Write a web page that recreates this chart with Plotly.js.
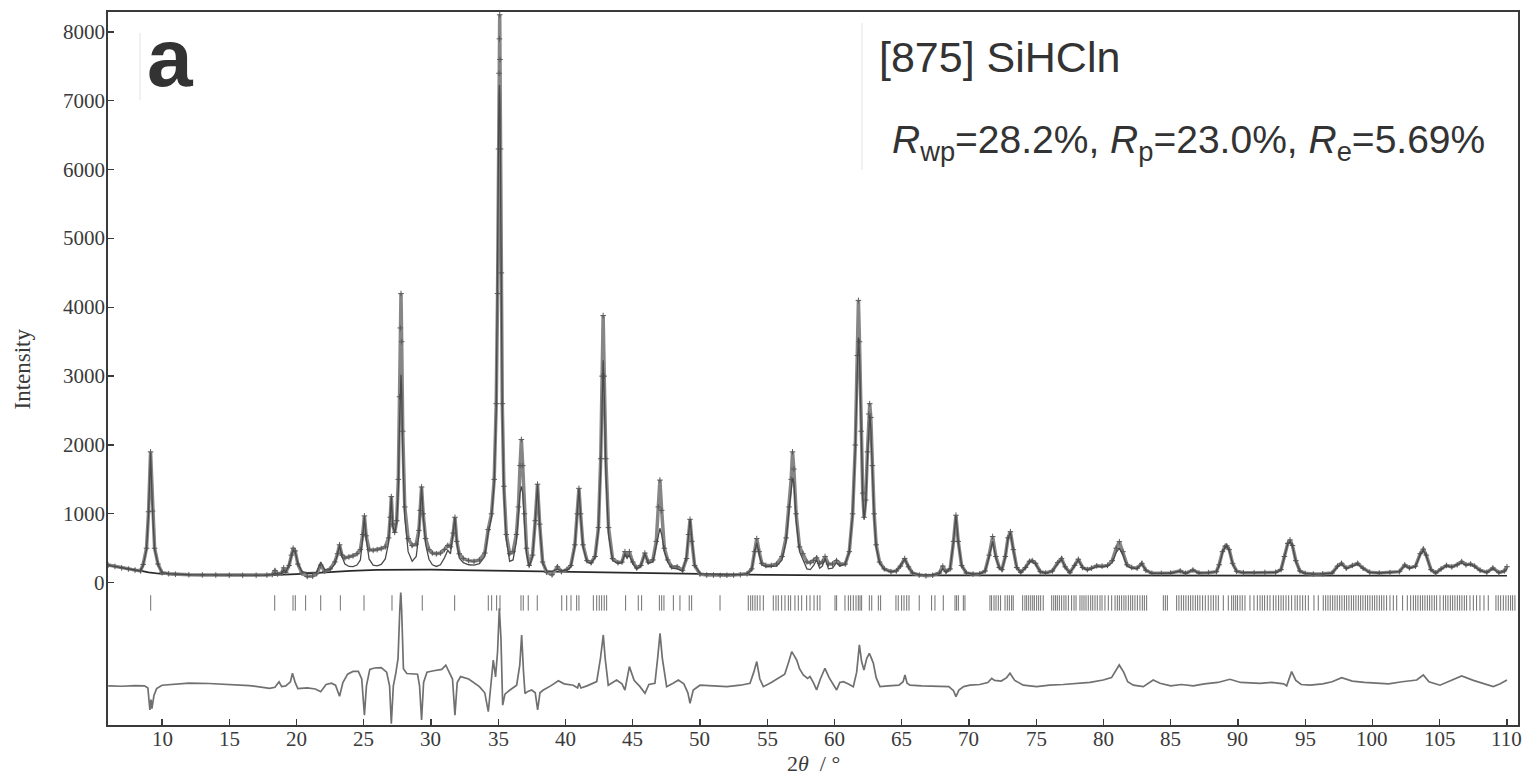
<!DOCTYPE html>
<html>
<head>
<meta charset="utf-8">
<script src="https://cdn.plot.ly/plotly-3.0.1.min.js"></script>
<style>
  html, body { margin: 0; padding: 0; background: #fff; }
  #chart { width: 1528px; height: 780px; }
</style>
</head>
<body>
<div id="chart"></div>
<script>
// Rietveld refinement plot for [875] SiHCln: observed, calculated,
// background, difference and reflection positions versus 2θ.

// ---- observed / calculated profile (shared 2θ grid) ----
const angle = [
  6.0, 6.5, 7.0, 7.5, 8.0, 8.4, 8.6, 8.85, 9.0, 9.15, 9.3, 9.45, 9.7, 10.0,
  10.5, 11, 12, 13, 14, 15, 16, 17, 17.8, 18.2, 18.4, 18.6, 18.9,
  19.05, 19.2, 19.45, 19.62, 19.75, 19.9, 20.1, 20.4, 20.8, 21.2, 21.5, 21.8, 22.1,
  22.5, 22.85, 23.05, 23.2, 23.38, 23.6, 23.9, 24.2, 24.5, 24.75, 24.92, 25.05, 25.18, 25.4, 25.7, 26.0, 26.3, 26.6,
  26.85, 26.97, 27.05, 27.15, 27.3, 27.45, 27.57, 27.66, 27.72, 27.77, 27.82, 27.9, 28.05, 28.3, 28.6, 28.9,
  29.1, 29.2, 29.3, 29.42, 29.6, 29.85, 30.1, 30.4, 30.7, 31.0, 31.25, 31.45, 31.65, 31.78, 31.92, 32.1, 32.4, 32.8, 33.2, 33.6,
  34.0, 34.25, 34.5, 34.7, 34.85, 34.95, 35.02, 35.06, 35.09, 35.11, 35.13, 35.17, 35.23, 35.3, 35.42, 35.6, 35.85, 36.1, 36.35,
  36.5, 36.62, 36.72, 36.82, 36.95, 37.1, 37.3, 37.55, 37.75, 37.92, 38.08, 38.3, 38.6, 39.0, 39.4,
  39.7, 40.1, 40.4, 40.7, 40.88, 41.0, 41.12, 41.3, 41.6, 41.9, 42.2, 42.45, 42.62, 42.72, 42.8, 42.88, 43.0, 43.2, 43.5,
  43.9, 44.2, 44.42, 44.58, 44.75, 45.0, 45.3, 45.6, 45.9, 46.15, 46.5, 46.75, 46.9, 47.02, 47.15, 47.35, 47.6, 47.9, 48.3, 48.7,
  49.0, 49.15, 49.26, 49.4, 49.6, 50.0, 50.5, 51.0, 51.5, 52.0, 52.5, 53.0, 53.5,
  53.85, 54.05, 54.22, 54.4, 54.6, 54.9, 55.3, 55.7, 56.1, 56.4, 56.62, 56.78, 56.88, 56.98, 57.15, 57.4, 57.65, 57.95, 58.2,
  58.45, 58.67, 58.9, 59.1, 59.3, 59.55, 59.85, 60.15, 60.4, 60.8, 61.1,
  61.35, 61.55, 61.7, 61.78, 61.86, 61.98, 62.1, 62.2, 62.32, 62.45, 62.55, 62.62, 62.7, 62.82, 62.95, 63.1, 63.35, 63.7,
  64.2, 64.6, 64.9, 65.22, 65.5, 65.8, 66.3, 66.8, 67.3, 67.8, 68.05, 68.3, 68.6, 68.85, 69.03, 69.2, 69.45, 69.8, 70.3,
  70.8, 71.2, 71.5, 71.76, 72.0, 72.25, 72.45, 72.7, 72.9, 73.08, 73.3, 73.55, 73.85, 74.2, 74.5, 74.7, 74.95, 75.3, 75.7,
  76.2, 76.6, 76.88, 77.15, 77.5, 77.85, 78.13, 78.45, 78.8, 79.1, 79.5, 79.9, 80.3, 80.65, 80.95, 81.18, 81.45, 81.75, 82.1, 82.5, 82.85, 83.15, 83.6,
  84.3, 85.0, 85.7, 86.1, 86.65, 87.1, 87.8, 88.4, 88.6, 88.85, 89.05, 89.16, 89.35, 89.6, 89.9, 90.4, 91.2, 92.0, 92.8,
  93.2, 93.45, 93.7, 93.87, 94.05, 94.3, 94.6, 95.0, 95.6, 96.3, 97.0, 97.4, 97.7, 98.05, 98.5, 98.9, 99.3, 99.8,
  100.5, 101.3, 102.0, 102.4, 102.75, 103.2, 103.55, 103.78, 104.0, 104.35, 104.7, 105.1, 105.5, 105.9, 106.3, 106.63, 106.95, 107.3, 107.6, 108.0, 108.5, 108.95, 109.4, 109.8, 110.0
];

const observed = [
  255, 235, 215, 198, 182, 172, 265, 500, 1030, 1900, 1040, 500, 270, 145,
  130, 122, 115, 112, 110, 107, 106, 107, 110, 118, 175, 125, 140,
  215, 150, 250, 400, 500, 460, 270, 140, 90, 95, 130, 255, 165,
  200, 300, 420, 550, 400, 360, 375, 390, 420, 480, 700, 970, 680, 480, 470, 480, 495, 520,
  650, 950, 1250, 850, 730, 900, 1500, 2700, 3700, 4200, 3500, 2200, 1100, 640, 540, 560,
  760, 1050, 1390, 1000, 640, 480, 430, 420, 430, 480, 540, 520, 720, 950, 600, 420, 350, 320, 310, 330,
  430, 770, 1000, 1500, 2600, 4200, 6300, 7400, 7900, 8250, 7600, 6300, 4500, 2600, 1400, 700, 420, 450, 700,
  1100, 1700, 2080, 1700, 1000, 500, 250, 400, 900, 1430, 850, 300, 150, 115, 230,
  160, 190, 250, 550, 1000, 1370, 1000, 550, 320, 290, 380, 800, 1800, 3000, 3880, 3000, 1800, 800, 350,
  290, 300, 450, 380, 450, 300, 213, 250, 430, 300, 330, 600, 1100, 1490, 1050, 500, 330, 230, 230, 180,
  350, 700, 920, 600, 250, 125, 110, 110, 105, 108, 110, 115, 130,
  200, 450, 640, 450, 280, 250, 250, 270, 380, 650, 1100, 1500, 1900, 1650, 1000, 520, 420, 300, 290,
  320, 360, 280, 300, 380, 270, 270, 320, 270, 270, 450,
  1000, 2000, 3300, 4100, 3500, 2200, 1300, 950, 1200, 1900, 2450, 2600, 2400, 1700, 1000, 550, 300, 200,
  160, 170, 240, 350, 230, 140, 110, 100, 108, 140, 240, 160, 200, 600, 980, 600, 250, 140, 125,
  130, 170, 400, 670, 380, 220, 190, 380, 650, 740, 480, 220, 150, 220, 310, 320, 280, 160, 140,
  170, 290, 350, 230, 145, 250, 340, 220, 190, 210, 245, 240, 250, 320, 500, 595, 450, 260, 220, 210, 280, 180, 137,
  135, 140, 170, 135, 183, 140, 145, 160, 260, 450, 530, 535, 480, 280, 165, 145, 145, 148, 150,
  190, 380, 570, 620, 540, 320, 170, 135, 125, 128, 140, 240, 280, 210, 250, 280, 210, 150,
  140, 145, 160, 257, 215, 240, 420, 485, 400, 190, 140, 200, 250, 230, 260, 305, 260, 270, 240, 180, 150, 213, 145, 170, 232
];

const calculated = [
  250, 232, 212, 195, 180, 170, 255, 485, 1010, 1880, 1020, 490, 265, 145,
  130, 122, 115, 112, 110, 107, 106, 107, 110, 115, 140, 120, 135,
  185, 150, 260, 390, 470, 450, 280, 160, 145, 148, 150, 300, 185,
  185, 270, 410, 540, 380, 270, 235, 232, 255, 330, 640, 960, 640, 340, 255, 245, 265, 345,
  580, 930, 1240, 830, 720, 880, 1350, 2300, 2900, 3020, 2800, 1900, 950, 450, 310, 380,
  700, 1030, 1380, 980, 560, 340, 260, 235, 260, 360, 470, 420, 700, 940, 580, 360, 290, 260, 255, 275,
  380, 720, 950, 1450, 2500, 4200, 6300, 7100, 7230, 7100, 6900, 6000, 4300, 2500, 1300, 620, 310, 330, 600,
  1000, 1300, 1400, 1300, 850, 430, 230, 380, 880, 1420, 830, 290, 170, 165, 200,
  170, 180, 230, 540, 990, 1360, 980, 520, 300, 280, 370, 760, 1700, 2700, 3230, 2700, 1600, 700, 320,
  280, 290, 420, 360, 400, 280, 200, 240, 420, 280, 300, 520, 700, 790, 700, 450, 300, 210, 200, 170,
  380, 720, 925, 620, 260, 130, 125, 122, 120, 118, 118, 118, 130,
  190, 420, 580, 410, 260, 230, 230, 240, 330, 600, 1050, 1400, 1520, 1450, 900, 450, 330, 200, 190,
  250, 330, 210, 240, 350, 200, 210, 290, 240, 270, 450,
  1000, 1950, 3100, 3560, 3300, 2100, 1250, 920, 1150, 1800, 2300, 2430, 2250, 1600, 950, 520, 290, 190,
  160, 170, 240, 345, 230, 140, 115, 112, 112, 130, 200, 150, 210, 600, 970, 600, 250, 140, 125,
  130, 165, 380, 600, 360, 210, 185, 370, 640, 730, 470, 220, 150, 215, 300, 310, 270, 160, 140,
  165, 280, 340, 225, 145, 245, 330, 215, 185, 205, 235, 230, 240, 290, 440, 500, 400, 240, 210, 205, 275, 180, 137,
  135, 140, 168, 135, 180, 140, 145, 158, 250, 440, 520, 530, 470, 275, 162, 145, 145, 148, 150,
  185, 370, 560, 600, 530, 310, 165, 135, 125, 128, 140, 230, 270, 205, 245, 270, 205, 150,
  140, 145, 160, 250, 210, 235, 410, 470, 390, 185, 140, 195, 245, 225, 255, 290, 255, 265, 235, 175, 150, 205, 145, 165, 200
];

// ---- refined background ----
const bkgAngle = [6, 7, 8, 9, 10, 11, 12, 14, 16, 18, 20, 22, 24, 26, 28, 30, 32, 34, 36, 38,
                  40, 43, 46, 50, 55, 60, 65, 70, 80, 90, 100, 110];
const bkgValue = [257, 225, 190, 150, 126, 117, 112, 108, 104, 108, 125, 150, 172, 185, 190, 188, 183, 176, 170, 164,
                  158, 148, 138, 125, 112, 106, 106, 106, 104, 104, 102, 100];

// ---- difference curve (obs - calc, drawn with its offset) ----
const diffAngle = [
  6.0, 7.0, 8.0, 8.7, 8.95, 9.1, 9.18, 9.25, 9.4, 9.6,
  10.0, 11, 12, 13.5, 15, 16.5, 18.0, 18.4, 18.7, 18.9,
  19.2, 19.55, 19.7, 19.9, 20.1, 20.8, 21.4, 21.8, 22.2, 22.6,
  22.9, 23.2, 23.45, 23.8, 24.2, 24.6, 24.85, 25.05, 25.2, 25.45,
  25.8, 26.3, 26.7, 26.92, 27.05, 27.2, 27.38, 27.55, 27.68, 27.75,
  27.82, 27.95, 28.2, 28.6, 29.0, 29.15, 29.3, 29.45, 29.7, 30.2,
  30.8, 31.1, 31.35, 31.6, 31.78, 31.95, 32.2, 32.8, 33.6, 34.0,
  34.26, 34.45, 34.63, 34.8, 34.95, 35.08, 35.2, 35.33, 35.5, 35.87,
  36.37, 36.6, 36.74, 36.88, 36.99, 37.2, 37.49, 37.75, 37.93, 38.1,
  38.35, 38.9, 39.47, 39.9, 40.58, 40.9, 41.0, 41.15, 41.6, 42.32,
  42.6, 42.81, 42.95, 43.18, 43.8, 44.2, 44.42, 44.75, 45.1, 45.54,
  45.91, 46.2, 46.65, 46.85, 47.03, 47.2, 47.52, 48.0, 48.39, 48.8,
  49.1, 49.26, 49.5, 50.0, 51.0, 52.0, 53.0, 53.72, 54.0, 54.22,
  54.45, 54.71, 55.3, 55.95, 56.3, 56.6, 56.82, 57.0, 57.19, 57.4,
  57.68, 58.0, 58.18, 58.45, 58.67, 58.95, 59.29, 59.6, 59.9, 60.16,
  60.4, 60.66, 61.0, 61.4, 61.65, 61.85, 62.02, 62.19, 62.4, 62.59,
  62.75, 62.89, 63.1, 63.38, 64.0, 64.8, 65.1, 65.24, 65.4, 65.61,
  66.5, 67.84, 68.5, 68.85, 69.03, 69.25, 69.6, 70.07, 70.8, 71.4,
  71.69, 71.9, 72.4, 72.8, 73.05, 73.4, 74.04, 75.03, 76.0, 77.0,
  78.0, 79.0, 79.98, 80.6, 81.17, 81.5, 81.8, 82.22, 82.96, 83.7,
  84.2, 85.0, 85.8, 86.68, 87.5, 88.5, 89.4, 90.2, 91.64, 92.5,
  93.4, 93.62, 93.99, 94.3, 94.7, 95.35, 96.3, 97.0, 97.71, 98.5,
  99.4, 100.3, 101.2, 102.2, 103.29, 103.78, 104.2, 105.02, 105.8, 106.63,
  107.5, 108.3, 108.98, 109.5, 110.0
];
const diffValue = [
  -1500, -1505, -1495, -1500, -1530, -1850, -1700, -1830, -1640, -1540,
  -1490, -1470, -1460, -1465, -1475, -1495, -1535, -1520, -1440, -1510,
  -1500, -1440, -1317, -1450, -1540, -1530, -1545, -1585, -1480, -1460,
  -1490, -1650, -1450, -1330, -1290, -1290, -1400, -1925, -1500, -1260,
  -1240, -1235, -1300, -1500, -2050, -1500, -1320, -1100, -400, -145,
  -400, -1250, -1320, -1330, -1330, -1500, -1995, -1450, -1300, -1280,
  -1260, -1200, -1290, -1400, -1925, -1450, -1365, -1400, -1510, -1600,
  -1875, -1500, -1125, -1370, -1000, -372, -800, -1780, -1620, -1560,
  -1490, -1200, -760, -1300, -1610, -1580, -1560, -1600, -1850, -1600,
  -1560, -1500, -1425, -1470, -1490, -1530, -1460, -1530, -1500, -1438,
  -1100, -760, -1100, -1490, -1414, -1470, -1560, -1220, -1420, -1511,
  -1608, -1480, -1462, -1100, -736, -1100, -1511, -1460, -1414, -1470,
  -1600, -1753, -1560, -1490, -1500, -1511, -1490, -1462, -1300, -1147,
  -1400, -1511, -1450, -1365, -1330, -1150, -1002, -1060, -1123, -1250,
  -1341, -1390, -1365, -1460, -1559, -1400, -1244, -1380, -1480, -1559,
  -1450, -1438, -1470, -1511, -1300, -905, -1150, -1268, -1100, -1026,
  -1100, -1171, -1380, -1511, -1500, -1490, -1440, -1341, -1460, -1490,
  -1500, -1500, -1510, -1570, -1656, -1560, -1510, -1490, -1480, -1450,
  -1390, -1420, -1430, -1380, -1317, -1420, -1490, -1511, -1490, -1480,
  -1462, -1450, -1414, -1380, -1196, -1300, -1440, -1490, -1511, -1414,
  -1462, -1500, -1480, -1500, -1470, -1450, -1404, -1450, -1462, -1450,
  -1470, -1500, -1293, -1420, -1480, -1490, -1470, -1440, -1380, -1430,
  -1450, -1462, -1470, -1440, -1414, -1341, -1440, -1490, -1430, -1356,
  -1420, -1470, -1511, -1470, -1414
];

// ---- Bragg reflection positions (2θ) ----
const reflections = [
  9.16, 18.38, 19.74, 19.91, 20.68, 21.8, 23.26, 25.02, 27.1, 27.79, 29.35, 31.76,
  34.26, 34.51, 34.88, 35.13, 36.69, 36.86, 37.23, 37.9, 39.72, 40.09, 40.41, 40.83, 41.0,
  42.07, 42.32, 42.51, 42.69, 42.88, 43.06, 44.47, 45.41, 45.66, 46.98, 47.15, 47.32,
  48.02, 48.51, 49.2, 49.38, 51.49,
  53.59, 53.77, 53.92, 54.09, 54.26, 54.46, 54.71, 55.45, 55.65, 55.82, 56.07, 56.32,
  56.57, 56.74, 57.06, 57.31, 57.56, 57.93, 58.18, 58.48, 58.72, 58.92,
  60.04, 60.16, 60.78, 61.03, 61.2, 61.4, 61.6, 61.77, 61.9, 62.02, 62.59, 62.77,
  63.26, 63.43, 64.57, 64.74, 64.99, 65.17, 65.37, 65.54, 66.3, 67.22, 67.47, 68.09,
  68.96, 69.08, 69.21, 69.58, 69.7,
  71.56, 71.68, 71.86, 72.01, 72.18, 72.35, 72.68, 72.85, 73.0, 73.17, 73.29,
  73.99, 74.16, 74.29, 74.44, 74.59, 74.74, 74.86, 75.03, 75.18, 75.33, 75.52,
  76.15, 76.3, 76.44, 76.57, 76.72, 76.89, 77.06, 77.21, 77.39, 77.63, 77.81, 77.96,
  78.25, 78.4, 78.55, 78.7, 78.87, 79.05, 79.2, 79.37, 79.54, 79.74, 79.89, 80.11,
  80.36, 80.61, 80.86, 81.03, 81.18, 81.35, 81.52, 81.67, 81.85, 82.02, 82.17, 82.34,
  82.52, 82.71, 82.89, 83.04, 83.21, 84.45, 84.6, 84.75,
  85.44, 85.61, 85.79, 85.96, 86.13, 86.31, 86.48, 86.65, 86.83, 87.0, 87.17, 87.37,
  87.57, 87.79, 87.99, 88.17, 88.36, 88.54, 88.91, 89.28, 89.53, 89.68, 89.83, 89.97,
  90.15, 90.32, 90.52, 90.89, 91.19, 91.44, 91.64, 91.81, 91.98, 92.18, 92.38, 92.63,
  92.82, 93.02, 93.2, 93.37, 93.57, 93.77, 93.99, 94.24, 94.41, 94.61, 94.81, 95.01,
  95.23, 95.65, 95.97, 96.34, 96.52, 96.69, 96.86, 97.04, 97.21, 97.38, 97.56, 97.73,
  97.91, 98.08, 98.25, 98.43, 98.6, 98.77, 98.95, 99.12, 99.29, 99.47, 99.64, 99.81,
  99.99, 100.16, 100.33, 100.51, 100.68, 100.85, 101.05, 101.3, 101.55, 101.8, 102.24,
  102.59, 102.84, 103.04, 103.21, 103.38, 103.56, 103.73, 103.9, 104.08, 104.25, 104.42,
  104.6, 104.77, 105.02, 105.27, 105.44, 105.61, 105.79, 105.96, 106.13, 106.31, 106.48,
  106.65, 106.83, 107.0, 107.25, 107.5, 107.74, 107.99, 108.29, 108.61, 109.18, 109.35,
  109.53, 109.73, 109.92, 110.1, 110.27, 110.42, 110.59
];

// ---- axis ticks ----
const angleTicks = [10, 15, 20, 25, 30, 35, 40, 45, 50, 55, 60, 65, 70, 75, 80, 85, 90, 95, 100, 105, 110];
const intensityTicks = [0, 1000, 2000, 3000, 4000, 5000, 6000, 7000, 8000];

// vertical level of the reflection marker row
const reflectionRow = -295;

const serif = "Liberation Serif, Times New Roman, serif";
const sans = "Liberation Sans, Arial, sans-serif";
const narrowSans = "Liberation Sans Narrow, Liberation Sans, Arial, sans-serif";
const axisInk = "#3a3a3a";

const traces = [
  {
    x: reflections, y: reflections.map(() => reflectionRow),
    type: "scatter", mode: "markers", hoverinfo: "x",
    marker: { symbol: "line-ns-open", size: 11, color: "#707070", line: { width: 1, color: "#707070" } }
  },
  {
    x: bkgAngle, y: bkgValue, type: "scatter", mode: "lines",
    line: { color: "#2a2a2a", width: 1.7 }
  },
  {
    x: angle, y: observed, type: "scatter", mode: "lines+markers",
    line: { color: "#868686", width: 3.5 },
    marker: { symbol: "cross-thin-open", size: 4, color: "#5a5a5a", line: { width: 1, color: "#5a5a5a" } }
  },
  {
    x: angle, y: calculated, type: "scatter", mode: "lines",
    line: { color: "#4a4a4a", width: 1.3 }
  },
  {
    x: diffAngle, y: diffValue, type: "scatter", mode: "lines",
    line: { color: "#707070", width: 1.7 }
  }
];

// Tick labels are placed as annotations so they sit tight against the frame.
const tickFont = { family: serif, size: 21, color: axisInk };
const xTickLabels = angleTicks.map(v => ({
  xref: "x", yref: "paper", x: v, y: 0, xanchor: "center", yanchor: "middle",
  yshift: -14, text: String(v), showarrow: false, font: tickFont
}));
const yTickLabels = intensityTicks.map(v => ({
  xref: "paper", yref: "y", x: 0, y: v, xanchor: "right", yanchor: "middle",
  xshift: -1, text: String(v), showarrow: false, font: tickFont
}));

const layout = {
  width: 1528, height: 780,
  margin: { l: 108, r: 10, t: 12, b: 55 },
  paper_bgcolor: "#fff", plot_bgcolor: "#fff",
  showlegend: false,
  xaxis: {
    range: [5.985, 110.82], tickvals: angleTicks, showticklabels: false,
    ticks: "inside", ticklen: 6, tickwidth: 1.3, tickcolor: axisInk,
    showline: true, mirror: true, linecolor: axisInk, linewidth: 1.6,
    showgrid: false, zeroline: false
  },
  yaxis: {
    range: [-2068, 8290], tickvals: intensityTicks, showticklabels: false,
    ticks: "inside", ticklen: 6, tickwidth: 1.3, tickcolor: axisInk,
    showline: true, mirror: true, linecolor: axisInk, linewidth: 1.6,
    showgrid: false, zeroline: false
  },
  annotations: [
    ...xTickLabels,
    ...yTickLabels,
    {
      xref: "paper", yref: "paper", x: 0.5, y: 0, xanchor: "center", yanchor: "middle",
      yshift: -38, text: "2<i>θ</i>&nbsp;&nbsp;/&nbsp;°", showarrow: false,
      font: { family: serif, size: 22, color: axisInk }
    },
    {
      xref: "paper", yref: "paper", x: -0.0603, y: 0.5, xanchor: "center", yanchor: "middle",
      textangle: -90, text: "Intensity", showarrow: false,
      font: { family: serif, size: 23, color: axisInk }
    },
    {
      xref: "paper", yref: "paper", x: 0.044, y: 0.9366, xanchor: "center", yanchor: "middle",
      text: "<b>a</b>", showarrow: false,
      font: { family: narrowSans, size: 82, color: "#333" }
    },
    {
      xref: "paper", yref: "paper", x: 0.6326, y: 0.9367, xanchor: "center", yanchor: "middle",
      text: "[875] SiHCln", showarrow: false,
      font: { family: sans, size: 43, color: "#333" }
    },
    {
      xref: "paper", yref: "paper", x: 0.766, y: 0.817, xanchor: "center", yanchor: "middle",
      text: "<i>R</i><sub>wp</sub>=28.2%, <i>R</i><sub>p</sub>=23.0%, <i>R</i><sub>e</sub>=5.69%",
      showarrow: false,
      font: { family: sans, size: 39, color: "#333" }
    }
  ],
  shapes: [
    { type: "line", xref: "paper", yref: "paper", x0: 0.0227, x1: 0.0227, y0: 0.8766, y1: 0.9705,
      line: { color: "#e2e2e2", width: 1 } },
    { type: "line", xref: "paper", yref: "paper", x0: 0.5348, x1: 0.5348, y0: 0.7784, y1: 0.9846,
      line: { color: "#e2e2e2", width: 1 } }
  ]
};

Plotly.newPlot("chart", traces, layout, { staticPlot: true, displayModeBar: false });
</script>
</body>
</html>
